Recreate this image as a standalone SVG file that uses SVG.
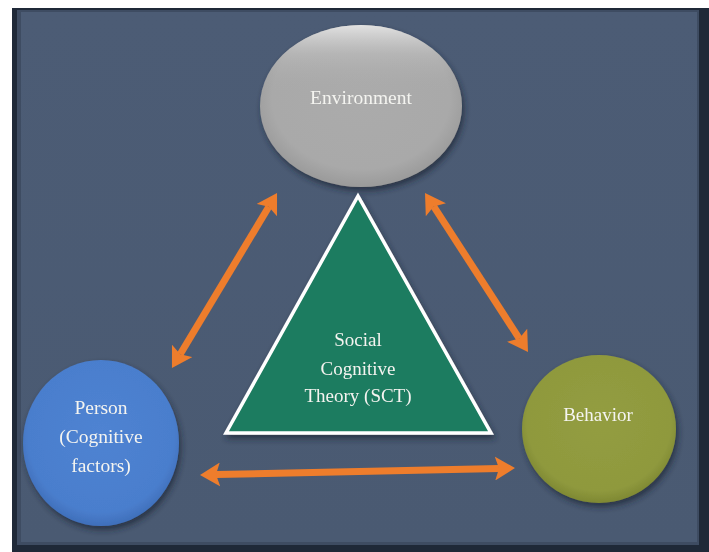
<svg xmlns="http://www.w3.org/2000/svg" width="709" height="552" viewBox="0 0 709 552">
  <style>
    .label { font-family: "Liberation Serif", "Times New Roman", serif; fill: #f4f4f0; text-anchor: middle; }
    .arrow { stroke: #ee7d2c; stroke-width: 7; fill: none; marker-start: url(#head); marker-end: url(#head); }
  </style>
  <defs>
    <marker id="head" viewBox="0 0 20 24" refX="4" refY="12" markerWidth="20" markerHeight="24" markerUnits="userSpaceOnUse" orient="auto-start-reverse">
      <path d="M0,0 L20,12 L0,24 L4,12 Z" fill="#ee7d2c"/>
    </marker>
    <linearGradient id="panel" x1="0" y1="0" x2="0" y2="1">
      <stop offset="0" stop-color="#4c5c75"/>
      <stop offset="1" stop-color="#4a5a72"/>
    </linearGradient>
    <radialGradient id="gray" cx="0.5" cy="0.45" r="0.55">
      <stop offset="0" stop-color="#ababab"/>
      <stop offset="0.8" stop-color="#a9a9a9"/>
      <stop offset="1" stop-color="#9a9a9a"/>
    </radialGradient>
    <linearGradient id="grayTop" x1="0" y1="0" x2="0" y2="1">
      <stop offset="0" stop-color="#e2e2e2"/>
      <stop offset="0.18" stop-color="#bdbdbd" stop-opacity="0.6"/>
      <stop offset="0.4" stop-color="#aaaaaa" stop-opacity="0"/>
    </linearGradient>
    <radialGradient id="blue" cx="0.5" cy="0.45" r="0.55">
      <stop offset="0" stop-color="#4f83d2"/>
      <stop offset="0.85" stop-color="#4a7ecd"/>
      <stop offset="1" stop-color="#3f6fba"/>
    </radialGradient>
    <radialGradient id="olive" cx="0.5" cy="0.45" r="0.55">
      <stop offset="0" stop-color="#939d41"/>
      <stop offset="0.85" stop-color="#8f993d"/>
      <stop offset="1" stop-color="#7e8833"/>
    </radialGradient>
    <filter id="shadow" x="-20%" y="-20%" width="140%" height="150%">
      <feGaussianBlur in="SourceAlpha" stdDeviation="3"/>
      <feOffset dx="2" dy="4" result="b"/>
      <feFlood flood-color="#1b2433" flood-opacity="0.7"/>
      <feComposite in2="b" operator="in"/>
      <feMerge><feMergeNode/><feMergeNode in="SourceGraphic"/></feMerge>
    </filter>
  </defs>

  <!-- page and bevelled panel -->
  <rect x="0" y="0" width="709" height="552" fill="#ffffff"/>
  <rect x="12" y="8" width="697" height="544" fill="#1f2938"/>
  <rect x="17" y="10" width="682" height="535" fill="#3e4c62"/>
  <rect x="21" y="12" width="676" height="530" fill="url(#panel)"/>

  <!-- connectors -->
  <g id="connectors">
    <line class="arrow" x1="180.2" y1="354.3" x2="268.8" y2="206.7"/>
    <line class="arrow" x1="433.7" y1="206.4" x2="519.3" y2="338.6"/>
    <line class="arrow" x1="216" y1="474.6" x2="499" y2="468.4"/>
  </g>

  <!-- Environment -->
  <g id="environment" filter="url(#shadow)">
    <ellipse cx="361" cy="106" rx="101" ry="81" fill="url(#gray)"/>
    <ellipse cx="361" cy="106" rx="101" ry="81" fill="url(#grayTop)"/>
    <text class="label" x="361" y="104" font-size="19.5">Environment</text>
  </g>

  <!-- Person -->
  <g id="person" filter="url(#shadow)">
    <ellipse cx="101" cy="443" rx="78" ry="83" fill="url(#blue)"/>
    <text class="label" x="101" y="414" font-size="19.5">Person</text>
    <text class="label" x="101" y="443" font-size="19.5">(Cognitive</text>
    <text class="label" x="101" y="472" font-size="19.5">factors)</text>
  </g>

  <!-- Behavior -->
  <g id="behavior" filter="url(#shadow)">
    <ellipse cx="599" cy="429" rx="77" ry="74" fill="url(#olive)"/>
    <text class="label" x="598" y="421" font-size="19">Behavior</text>
  </g>

  <!-- Social Cognitive Theory -->
  <g id="sct" filter="url(#shadow)">
    <polygon points="358,196 491,433 226,433" fill="#1e7b60" stroke="#ffffff" stroke-width="3.5" stroke-linejoin="miter"/>
    <text class="label" x="358" y="346" font-size="19">Social</text>
    <text class="label" x="358" y="375" font-size="19">Cognitive</text>
    <text class="label" x="358" y="402" font-size="19">Theory (SCT)</text>
  </g>
</svg>
